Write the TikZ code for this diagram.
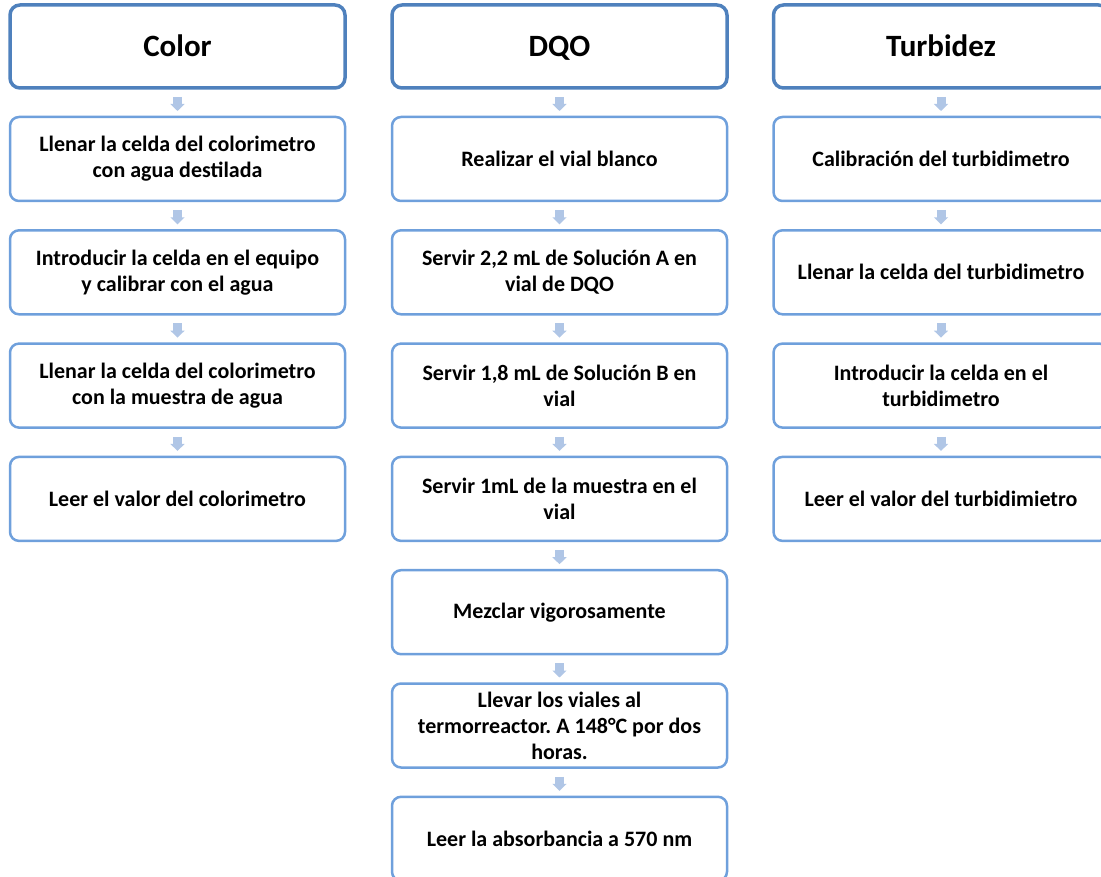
\documentclass[tikz,border=0pt]{standalone}
\usepackage{fontspec}
\setmainfont{Carlito}
\usetikzlibrary{positioning,arrows.meta}
\definecolor{bordeoscuro}{HTML}{4F81BD}
\definecolor{bordeclaro}{HTML}{6FA0DC}
\definecolor{flechaazul}{HTML}{B0C6E6}
\frenchspacing
\begin{document}
\begin{tikzpicture}[x=1pt, y=-1pt,
titulo/.style={rectangle, draw=bordeoscuro, line width=3.5pt, rounded corners=10pt, minimum width=335pt, minimum height=83pt, outer sep=0pt, text height=21pt, text depth=1pt, font=\fontsize{31}{36}\selectfont\bfseries},
paso/.style={rectangle, draw=bordeclaro, line width=2.5pt, rounded corners=9pt, minimum width=335pt, minimum height=84pt, outer sep=0pt, align=center, font=\fontsize{22}{26}\selectfont\bfseries},
flecha/.style={draw=flechaazul, line width=9pt, -{Triangle[width=14pt,length=7pt]}, shorten <=9pt, shorten >=6pt},
node distance=29.3pt,
]
\useasboundingbox (0,0) rectangle (1101,877);
% Color
\node[titulo] (c0) at (177.5,46.5) {Color};
\node[paso, below=29pt of c0] (c1) {Llenar la celda del colorimetro\\ con agua destilada};
\node[paso, below=of c1] (c2) {Introducir la celda en el equipo\\ y calibrar con el agua};
\node[paso, below=of c2] (c3) {Llenar la celda del colorimetro\\ con la muestra de agua};
\node[paso, below=of c3] (c4) {Leer el valor del colorimetro};
% DQO
\node[titulo] (d0) at (559.5,46.5) {DQO};
\node[paso, below=29pt of d0] (d1) {Realizar el vial blanco};
\node[paso, below=of d1] (d2) {Servir 2,2 mL de Solución A en\\ vial de DQO};
\node[paso, below=of d2] (d3) {Servir 1,8 mL de Solución B en\\ vial};
\node[paso, below=of d3] (d4) {Servir 1mL de la muestra en el\\ vial};
\node[paso, below=of d4] (d5) {Mezclar vigorosamente};
\node[paso, below=of d5] (d6) {Llevar los viales al\\ termorreactor. A 148°C por dos\\ horas.};
\node[paso, below=of d6] (d7) {Leer la absorbancia a 570 nm};
% Turbidez
\node[titulo] (t0) at (941,46.5) {Turbidez};
\node[paso, below=29pt of t0] (t1) {Calibración del turbidimetro};
\node[paso, below=of t1] (t2) {Llenar la celda del turbidimetro};
\node[paso, below=of t2] (t3) {Introducir la celda en el\\ turbidimetro};
\node[paso, below=of t3] (t4) {Leer el valor del turbidimietro};
% flechas
\foreach \a/\b in {c0/c1,c1/c2,c2/c3,c3/c4,d0/d1,d1/d2,d2/d3,d3/d4,d4/d5,d5/d6,d6/d7,t0/t1,t1/t2,t2/t3,t3/t4}
  \draw[flecha] (\a) -- (\b);
\end{tikzpicture}
\end{document}
